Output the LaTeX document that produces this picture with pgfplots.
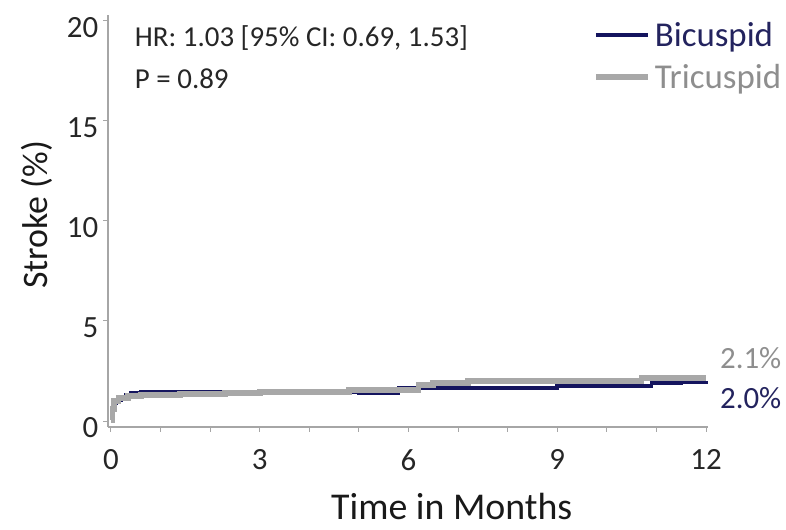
\documentclass[border=0pt]{standalone}
\usepackage{fontspec}
\setmainfont{Carlito}
\usepackage{pgfplots}
\pgfplotsset{compat=1.18}
\definecolor{bicol}{HTML}{14145E}
\definecolor{bitxt}{HTML}{23235E}
\definecolor{tricol}{HTML}{A8A8A8}
\definecolor{tritxt}{HTML}{8E8E8E}
\definecolor{axcol}{HTML}{A6A6A6}
\begin{document}
\begin{tikzpicture}
\begin{axis}[
  name=ax,
  scale only axis,
  width=600bp, height=412bp,
  xmin=-0.06, xmax=12.04,
  ymin=-0.3, ymax=20.3,
  axis lines=left,
  axis line style={-, draw=axcol, line width=1.6bp},
  xtick={0,3,6,9,12},
  minor xtick={1,2,4,5,7,8,10,11},
  ytick={0,5,10,15,20},
  tick align=outside,
  major tick length=4.5bp,
  minor tick length=4.5bp,
  tick style={draw=axcol, line width=1bp},
  /pgf/number format/assume math mode=true,
  tick label style={font=\fontsize{31}{37}\selectfont, text=black!85},
  yticklabel style={inner sep=0pt, xshift=-5bp, yshift=-7bp},
  xticklabel style={inner sep=0pt, yshift=-18bp},
  xlabel={Time in Months},
  ylabel={Stroke (\%)},
  label style={font=\fontsize{38}{45}\selectfont, text=black!90},
  xlabel style={at={(rel axis cs:0.573,0)}, anchor=base, yshift=-92bp},
  ylabel style={at={(rel axis cs:-0.1,0.515)}, anchor=base, font=\fontsize{36}{43}\selectfont},
  legend cell align=left,
  legend style={draw=none, fill=none, at={(rel axis cs:0.808,0.983)}, anchor=north west,
    font=\fontsize{35}{42}\selectfont, inner sep=0pt, row sep=16bp,
    nodes={font=\fontsize{35}{42}\selectfont, inner sep=0pt},
    /tikz/every odd column/.append style={column sep=4bp}},
  legend image code/.code={\draw[#1] (0bp,0bp) -- (52bp,0bp);},
  clip=false,
]
% Bicuspid (drawn first, under the grey curve)
\addplot[const plot, draw=bicol, line width=3.8bp] coordinates {
  (0,0.70) (0.04,0.90) (0.1,1.05) (0.2,1.20) (0.3,1.30) (0.4,1.40)
  (0.6,1.45) (1.3,1.45) (2.5,1.45) (5.0,1.40) (5.8,1.65)
  (9.0,1.75) (10.9,1.90) (11.5,1.95) (12,2.00) };
\addlegendentry{\textcolor{bitxt}{Bicuspid}}
% Tricuspid
\addplot[const plot, draw=tricol, line width=5.8bp] coordinates {
  (0,0.05) (0.03,0.60) (0.06,1.00) (0.15,1.15) (0.35,1.25) (0.6,1.30)
  (1.4,1.35) (2.3,1.40) (3.0,1.45) (4.8,1.55) (6.2,1.80) (6.5,1.90)
  (7.2,2.00) (10.7,2.15) (12,2.15) };
\addlegendentry{\textcolor{tritxt}{Tricuspid}}
\node[anchor=base west, inner sep=0pt, font=\fontsize{29}{35}\selectfont, text=black!85]
  at (axis cs:0.48,18.7) {HR: 1.03 [95\% CI: 0.69, 1.53]};
\node[anchor=base west, inner sep=0pt, font=\fontsize{29}{35}\selectfont, text=black!85]
  at (axis cs:0.48,16.6) {P = 0.89};
\node[anchor=west, inner sep=0pt, font=\fontsize{31}{37}\selectfont, text=tritxt]
  at (axis cs:12.28,3.15) {2.1\%};
\node[anchor=west, inner sep=0pt, font=\fontsize{31}{37}\selectfont, text=bitxt]
  at (axis cs:12.28,1.15) {2.0\%};
\end{axis}
\pgfresetboundingbox
\path (ax.south west) ++(-108bp,-103bp) rectangle ++(786bp,530bp);
\end{tikzpicture}
\end{document}
